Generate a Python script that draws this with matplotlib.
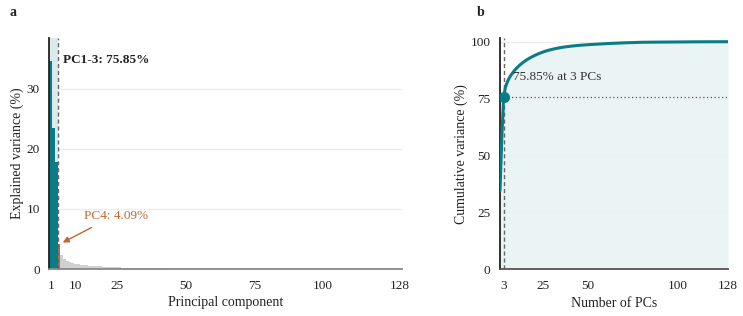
import matplotlib
matplotlib.use("Agg")
import matplotlib.pyplot as plt
import numpy as np
from matplotlib import rcParams

# ── Data ───────────────────────────────────────────────────────────────
# explained variance (%) per principal component, PC1..PC128
VAR_HEAD = [34.6, 23.4, 17.85, 4.09]
VAR_MID = [2.25, 1.7, 1.3, 1.1, 1.0, 0.9,
           0.82, 0.74, 0.67, 0.61, 0.56, 0.52, 0.48, 0.45, 0.42, 0.39, 0.37,
           0.35, 0.33, 0.31, 0.29, 0.27, 0.25, 0.23, 0.21, 0.19, 0.18, 0.17,
           0.16, 0.15, 0.14]
VAR_TAIL = [0.13, 0.12, 0.11, 0.10, 0.095, 0.09, 0.085, 0.08, 0.075, 0.07,
            0.066, 0.062, 0.058, 0.055, 0.052,
            0.050, 0.049, 0.048, 0.047, 0.046, 0.045, 0.044, 0.043, 0.042, 0.041,
            0.040, 0.039, 0.038, 0.037, 0.036, 0.035, 0.034, 0.033, 0.032, 0.031,
            0.030, 0.029, 0.028, 0.027, 0.026, 0.025, 0.024, 0.023, 0.022, 0.021,
            0.008, 0.008, 0.008, 0.008, 0.008, 0.008, 0.008, 0.008, 0.008, 0.008,
            0.008, 0.008, 0.006, 0.006, 0.006, 0.006, 0.006, 0.006, 0.006, 0.006,
            0.006, 0.006, 0.006, 0.006, 0.004, 0.004, 0.004, 0.004, 0.004, 0.004,
            0.004, 0.004, 0.004, 0.004, 0.004, 0.004, 0.002, 0.002, 0.002, 0.002,
            0.002, 0.002, 0.002, 0.002, 0.002, 0.002, 0.002, 0.002]
variance = np.array(VAR_HEAD + VAR_MID + VAR_TAIL)
pcs = np.arange(1, len(variance) + 1)
cumulative = np.cumsum(variance)

N_KEEP = 3
X_TICKS_A = [1, 10, 25, 50, 75, 100, 128]
Y_TICKS_A = [0, 10, 20, 30]
X_TICKS_B = [3, 25, 50, 100, 128]
Y_TICKS_B = [0, 25, 50, 75, 100]

# palette
TEAL = "#0a7c86"
TEAL_LIGHT = "#dceaec"
TEAL_FILL = "#e9f3f4"
ORANGE = "#c0682f"
GREY_BAR = "#d0d0d0"
INK = "#222222"
MUTE = "#666666"
GRID = "#ececec"

rcParams.update({
    "font.family": ["Liberation Serif", "DejaVu Serif"],
    "font.size": 9.5,
    "axes.spines.top": False,
    "axes.spines.right": False,
    "xtick.color": INK,
    "ytick.color": INK,
})

fig = plt.figure(figsize=(7.43, 3.16), dpi=100, facecolor="white")

# ── Panel a: scree plot ────────────────────────────────────────────────
ax = fig.add_axes([0.0666, 0.1487, 0.474, 0.731])
ax.axvspan(0.5, N_KEEP + 0.5, color=TEAL_LIGHT, lw=0, zorder=0)
for y in Y_TICKS_A[1:]:
    ax.axhline(y, color=GRID, lw=0.9, zorder=0.5)
colors = [TEAL] * N_KEEP + [ORANGE] + [GREY_BAR] * (len(variance) - N_KEEP - 1)
ax.bar(pcs, variance, width=1.0, color=colors, lw=0, zorder=2)
ax.axvline(N_KEEP + 0.5, color=MUTE, lw=1.0, ls=(0, (3, 2)), zorder=3)

ax.text(5.4, 34.7, f"PC1-{N_KEEP}: {cumulative[N_KEEP - 1]:.2f}%",
        fontsize=9.5, weight="bold", color=INK, va="center", ha="left")
ax.text(13, 8.85, f"PC4: {variance[3]:.2f}%", fontsize=9.5, color=ORANGE,
        va="center", ha="left")
ax.annotate("", xy=(5.3, 4.4), xytext=(15.8, 6.9),
            arrowprops=dict(arrowstyle="-|>", color=ORANGE, lw=1.0,
                            mutation_scale=9, shrinkA=0, shrinkB=0))

ax.set_xlim(0.5, 128.6)
ax.set_ylim(0, 38.4)
ax.set_xticks(X_TICKS_A)
ax.set_yticks(Y_TICKS_A)
ax.tick_params(axis="both", length=0, labelsize=9.5)
ax.tick_params(axis="x", pad=8)
ax.tick_params(axis="y", pad=7)
ax.spines["left"].set_color(INK)
ax.spines["left"].set_linewidth(1.3)
ax.spines["bottom"].set_color("#888888")
ax.spines["bottom"].set_linewidth(1.3)
ax.set_xlabel("Principal component", fontsize=10, color=INK, labelpad=3)
ax.set_ylabel("Explained variance (%)", fontsize=10, color=INK, labelpad=2)
fig.text(10 / 743, 1 - 13 / 316, "a", fontsize=10, weight="bold",
         color=INK, va="center", ha="left")

# ── Panel b: cumulative variance ───────────────────────────────────────
bx = fig.add_axes([0.673, 0.1478, 0.307, 0.7310])
for y in Y_TICKS_B[1:]:
    bx.axhline(y, color=GRID, lw=0.9, zorder=0.5)
bx.fill_between(pcs, 0, cumulative, color=TEAL_FILL, alpha=0.9, lw=0, zorder=1)
bx.plot(pcs, cumulative, color=TEAL, lw=2.2, zorder=3, solid_capstyle="round")
bx.axvline(N_KEEP, color=MUTE, lw=1.0, ls=(0, (3, 2)), zorder=2)
bx.hlines(cumulative[N_KEEP - 1], N_KEEP, 128, color="#555555", lw=0.9,
          ls=(0, (1, 2)), zorder=2)
bx.plot([N_KEEP], [cumulative[N_KEEP - 1]], "o", color=TEAL, ms=7, zorder=4)
bx.text(8.0, 84.3, f"{cumulative[N_KEEP - 1]:.2f}% at {N_KEEP} PCs",
        fontsize=9.5, color="#333333", va="center", ha="left")

bx.set_xlim(1, 128)
bx.set_ylim(0, 101.5)
bx.set_xticks(X_TICKS_B)
bx.set_yticks(Y_TICKS_B)
bx.tick_params(axis="both", length=0, labelsize=9.5)
bx.tick_params(axis="x", pad=8)
bx.tick_params(axis="y", pad=7)
bx.spines["left"].set_color(INK)
bx.spines["left"].set_linewidth(1.3)
bx.spines["bottom"].set_color("#555555")
bx.spines["bottom"].set_linewidth(1.3)
bx.set_xlabel("Number of PCs", fontsize=10, color=INK, labelpad=3)
bx.set_ylabel("Cumulative variance (%)", fontsize=10, color=INK, labelpad=2)
fig.text(477 / 743, 1 - 13 / 316, "b", fontsize=10, weight="bold",
         color=INK, va="center", ha="left")

fig.savefig("out.png", dpi=100, facecolor="white")
